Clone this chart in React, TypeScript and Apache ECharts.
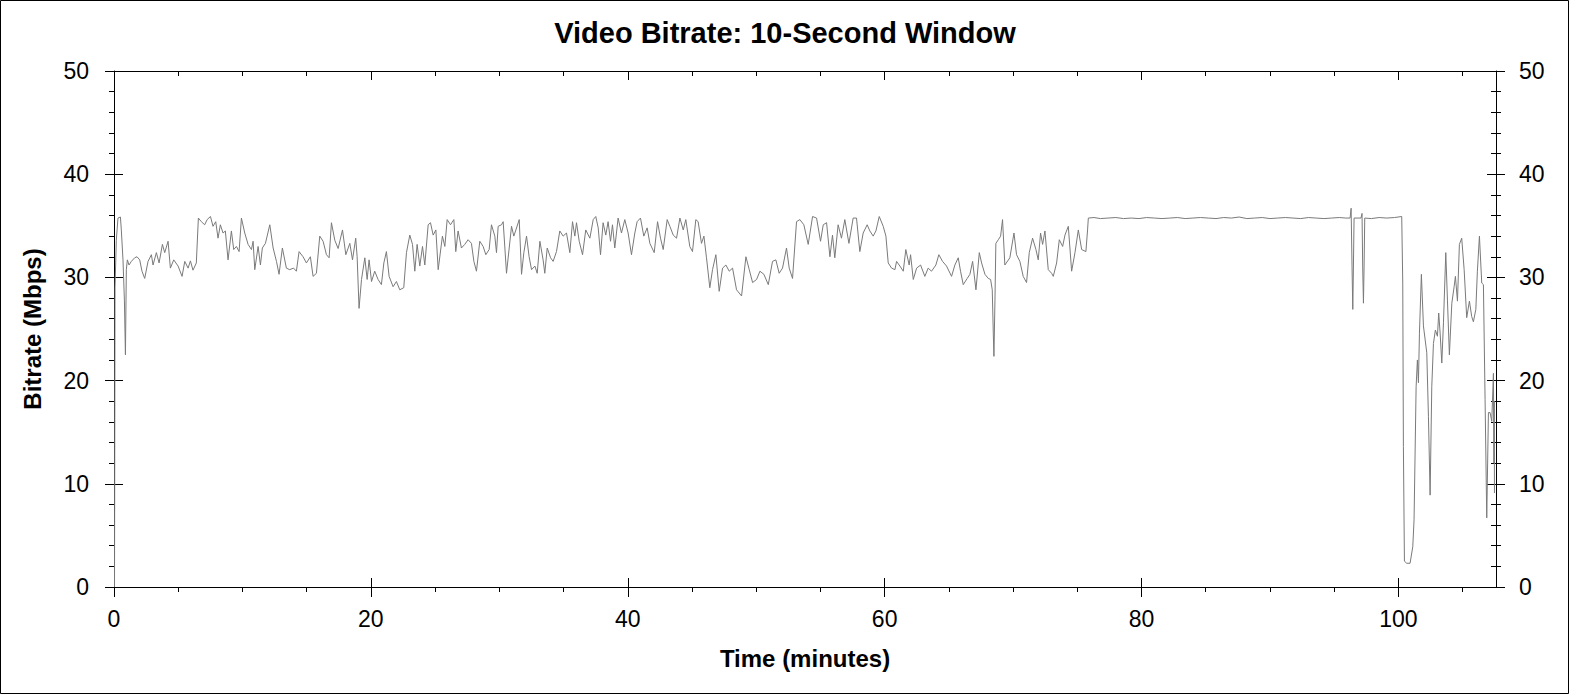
import React, { useEffect, useRef } from "react";
import * as echarts from "echarts";

// Time in minutes
const timeMin: number[] = [
  0.04, 0.08, 0.18, 0.31, 0.5, 0.57, 0.7, 0.81, 0.89, 0.96, 1.04, 1.17, 1.35, 1.61, 1.79, 2.0, 2.18, 2.39, 2.65, 2.91,
  3.04, 3.3, 3.51, 3.77, 3.95, 4.21, 4.39, 4.65, 4.99, 5.3, 5.51, 5.77, 5.95, 6.15, 6.41, 6.57, 6.8, 7.06, 7.25, 7.51,
  7.71, 7.92, 8.1, 8.28, 8.49, 8.67, 8.88, 9.14, 9.32, 9.53, 9.74, 9.92, 10.18, 10.44, 10.7, 10.83, 10.96, 11.22, 11.4, 11.55,
  11.79, 12.13, 12.39, 12.65, 12.85, 13.11, 13.42, 13.68, 13.98, 14.2, 14.41, 14.72, 14.98, 15.29, 15.5, 15.76, 16.02, 16.28, 16.54, 16.75,
  16.93, 17.19, 17.45, 17.79, 18.05, 18.36, 18.57, 18.82, 18.93, 19.08, 19.27, 19.53, 19.71, 19.86, 20.05, 20.3, 20.56, 20.82, 21.01, 21.21,
  21.42, 21.73, 21.99, 22.25, 22.56, 22.77, 23.03, 23.24, 23.42, 23.6, 23.81, 24.02, 24.2, 24.46, 24.64, 24.85, 25.06, 25.24, 25.57, 25.76,
  25.94, 26.2, 26.46, 26.61, 26.79, 27.05, 27.31, 27.57, 27.83, 28.02, 28.22, 28.48, 28.74, 28.95, 29.21, 29.39, 29.65, 29.78, 29.91, 30.17,
  30.3, 30.56, 30.95, 31.13, 31.29, 31.55, 31.73, 31.91, 32.12, 32.32, 32.51, 32.77, 32.95, 33.16, 33.41, 33.54, 33.73, 33.99, 34.19, 34.45,
  34.71, 34.97, 35.23, 35.49, 35.7, 35.88, 36.01, 36.22, 36.48, 36.73, 37.05, 37.31, 37.51, 37.7, 37.88, 38.08, 38.29, 38.47, 38.66, 38.81,
  38.99, 39.25, 39.51, 39.77, 40.03, 40.29, 40.55, 40.73, 40.99, 41.25, 41.51, 41.72, 42.06, 42.32, 42.55, 42.76, 43.07, 43.28, 43.54, 43.8,
  44.06, 44.32, 44.52, 44.83, 45.04, 45.3, 45.48, 45.74, 45.93, 46.13, 46.39, 46.6, 46.86, 47.12, 47.38, 47.64, 47.9, 48.16, 48.47, 48.86,
  49.2, 49.46, 49.72, 50.03, 50.29, 50.6, 50.94, 51.27, 51.53, 51.79, 52.05, 52.36, 52.57, 52.83, 53.14, 53.4, 53.71, 54.05, 54.39, 54.7,
  55.01, 55.22, 55.48, 55.74, 55.94, 56.12, 56.38, 56.64, 56.9, 57.22, 57.55, 57.81, 58.07, 58.33, 58.64, 58.85, 59.11, 59.32, 59.58, 59.89,
  60.1, 60.28, 60.54, 60.8, 60.93, 61.19, 61.45, 61.65, 61.91, 62.02, 62.23, 62.49, 62.8, 63.13, 63.39, 63.65, 63.99, 64.22, 64.51, 64.82,
  65.21, 65.47, 65.73, 65.91, 66.12, 66.43, 66.64, 66.85, 67.11, 67.37, 67.55, 67.81, 68.07, 68.25, 68.38, 68.46, 68.51, 68.59, 68.66, 68.85,
  69.03, 69.18, 69.36, 69.75, 70.07, 70.27, 70.53, 70.79, 71.05, 71.26, 71.52, 71.78, 71.96, 72.14, 72.3, 72.48, 72.74, 73.0, 73.13, 73.39,
  73.6, 73.86, 74.04, 74.3, 74.56, 74.82, 75.08, 75.34, 75.67, 75.8, 75.86,
  76.3, 76.8, 77.4, 78.0, 78.6, 79.2, 79.8, 80.4, 81.0, 81.6, 82.2, 82.8, 83.4, 84.0, 84.6, 85.2, 85.8, 86.4, 87.0, 87.6,
  88.2, 88.8, 89.4, 90.0, 90.6, 91.2, 91.8, 92.4, 93.0, 93.6, 94.2, 94.8, 95.4, 95.9, 96.24,
  96.32, 96.39, 96.45, 96.5, 96.55, 97.09, 97.17, 97.22, 97.28, 97.33, 97.38, 97.9, 98.5, 99.1, 99.7,
  100.26, 100.34, 100.39, 100.47, 100.65, 100.91, 101.12, 101.22, 101.38, 101.48, 101.56, 101.64, 101.79, 101.95, 102.21, 102.34, 102.47, 102.6, 102.73, 102.88,
  103.04, 103.14, 103.25, 103.38, 103.51, 103.69, 103.82, 103.97, 104.16, 104.34, 104.44, 104.6, 104.75, 104.93, 105.12, 105.32, 105.53, 105.71, 105.84, 106.03,
  106.15, 106.31, 106.49, 106.62, 106.75, 106.88, 107.01, 107.14, 107.27, 107.4, 107.44, 107.46, 107.48,
];

// Bitrate in Mbps
const bitrateMbps: number[] = [
  0, 29.0, 33.6, 35.75, 35.85, 34.6, 31.7, 27.8, 22.5, 30.75, 31.7, 31.2, 31.55, 31.9, 32.0, 31.7, 30.6, 29.9, 31.55, 32.2,
  31.2, 32.4, 31.4, 33.2, 32.4, 33.5, 30.9, 31.7, 31.1, 30.1, 31.55, 30.9, 31.6, 30.7, 31.4, 35.75, 35.4, 35.1, 35.6, 35.9,
  34.95, 35.4, 33.8, 35.1, 34.3, 34.5, 31.7, 34.5, 32.7, 33.0, 32.5, 35.75, 34.3, 33.2, 32.7, 33.5, 30.75, 33.0, 31.2, 32.85,
  33.3, 35.1, 32.85, 31.55, 30.3, 32.85, 30.9, 30.75, 30.9, 30.6, 32.5, 32.0, 31.4, 32.0, 30.1, 30.4, 34.0, 33.5, 32.2, 31.9,
  35.3, 33.6, 32.8, 34.6, 32.2, 33.3, 31.7, 33.8, 32.0, 27.0, 29.8, 31.9, 29.8, 31.7, 29.6, 30.6, 29.8, 29.3, 31.4, 32.5,
  30.1, 29.1, 29.6, 28.8, 29.0, 32.4, 34.1, 33.2, 30.6, 33.2, 31.1, 33.0, 31.2, 35.1, 35.3, 34.1, 34.6, 30.75, 34.0, 33.0,
  35.6, 35.1, 35.6, 32.5, 34.5, 32.85, 33.2, 33.65, 33.3, 31.55, 30.6, 33.5, 33.0, 32.2, 32.7, 35.1, 34.0, 32.4, 34.95, 35.1,
  35.4, 30.4, 34.95, 34.0, 34.6, 35.6, 30.3, 32.4, 34.0, 32.0, 30.75, 31.1, 30.4, 33.5, 31.7, 30.4, 32.85, 31.9, 31.55, 32.5,
  34.5, 34.0, 34.3, 32.4, 35.4, 34.0, 35.3, 33.5, 32.2, 34.6, 33.8, 35.6, 35.9, 34.8, 32.2, 35.3, 34.1, 35.4, 33.5, 35.1,
  32.85, 35.75, 34.3, 35.6, 34.3, 32.2, 34.3, 35.4, 35.75, 34.0, 34.8, 33.3, 32.4, 35.4, 33.8, 32.7, 35.6, 34.95, 34.1, 33.8,
  35.75, 34.6, 35.6, 33.0, 32.5, 35.6, 35.4, 33.3, 34.0, 31.9, 29.0, 30.75, 32.2, 28.65, 30.9, 31.2, 30.6, 30.9, 28.8, 28.2,
  32.0, 30.75, 29.5, 29.8, 30.6, 30.3, 29.3, 31.55, 31.7, 30.4, 30.9, 32.85, 30.9, 29.9, 35.4, 35.6, 35.1, 33.2, 35.9, 35.75,
  33.5, 35.1, 35.3, 32.0, 34.1, 31.9, 35.1, 33.8, 35.6, 33.3, 35.75, 35.75, 32.5, 34.3, 35.1, 34.5, 34.0, 34.5, 35.9, 34.95,
  34.0, 31.4, 30.9, 30.75, 31.55, 31.1, 30.6, 32.7, 31.2, 32.2, 29.8, 30.9, 31.2, 30.1, 30.9, 30.6, 31.2, 32.2, 31.55, 31.1,
  30.1, 31.2, 31.9, 30.6, 29.3, 29.9, 30.3, 31.55, 28.8, 32.4, 31.4, 30.3, 29.9, 29.8, 28.8, 24.6, 22.35, 27.8, 33.3, 33.65,
  34.0, 35.6, 31.2, 31.9, 34.3, 32.2, 31.55, 30.1, 29.5, 32.4, 33.8, 32.7, 31.7, 34.3, 33.2, 34.5, 30.75, 30.4, 30.1, 31.4,
  33.65, 33.0, 34.1, 34.95, 30.6, 32.4, 34.6, 32.7, 32.5, 34.6, 35.75,
  35.8, 35.7, 35.75, 35.8, 35.7, 35.75, 35.7, 35.8, 35.75, 35.7, 35.75, 35.8, 35.7, 35.75, 35.8, 35.75, 35.7, 35.8, 35.75, 35.85,
  35.7, 35.75, 35.8, 35.7, 35.75, 35.8, 35.75, 35.7, 35.8, 35.75, 35.7, 35.75, 35.8, 35.75, 35.75,
  36.7, 31.1, 26.9, 31.1, 35.75, 35.75, 36.2, 31.1, 27.5, 31.1, 35.75, 35.7, 35.8, 35.75, 35.8,
  35.9, 29.45, 13.6, 2.5, 2.3, 2.3, 3.9, 6.5, 19.4, 22.0, 19.8, 24.6, 30.3, 25.3, 22.7, 16.5, 8.9, 19.4, 23.6, 24.9,
  24.3, 26.55, 24.6, 21.7, 25.6, 32.4, 27.8, 22.5, 27.5, 29.1, 30.1, 27.7, 33.2, 33.8, 30.75, 26.1, 27.7, 26.2, 25.7, 26.9,
  30.6, 34.0, 29.45, 29.3, 18.15, 6.7, 16.9, 16.9, 16.05, 20.7, 12.0, 18.0, 9.1,
];

const xMajorTicks: number[] = [0, 20, 40, 60, 80, 100];
const xMinorTicks: number[] = [5, 10, 15, 25, 30, 35, 45, 50, 55, 65, 70, 75, 85, 90, 95, 105];

const TITLE = "Video Bitrate: 10-Second Window";
const X_NAME = "Time (minutes)";
const Y_NAME = "Bitrate (Mbps)";

const FONT = '"Liberation Sans", Arial, Helvetica, sans-serif';
const X_MAX = 107.6;

export default function App() {
  const ref = useRef<HTMLDivElement>(null);

  useEffect(() => {
    if (!ref.current) return;
    const chart = echarts.init(ref.current, undefined, { renderer: "svg" });
    const black = { color: "#000", width: 1 };
    const baseX = { type: "value", min: 0, max: X_MAX, interval: 20, splitLine: { show: false } };
    const baseY = { type: "value", min: 0, max: 50, interval: 10, splitLine: { show: false } };
    const labelStyle = { color: "#000", fontSize: 23, fontFamily: FONT };

    const data = timeMin.map((t, i) => [t, bitrateMbps[i]]);

    chart.setOption({
      animation: false,
      backgroundColor: "#fff",
      grid: { left: 114, right: 74, top: 71, bottom: 108, containLabel: false },
      xAxis: [
        {
          ...baseX,
          position: "bottom",
          axisLine: { show: true, onZero: false, lineStyle: black },
          axisTick: { show: true, length: 10, customValues: xMajorTicks, lineStyle: black },
          axisLabel: { ...labelStyle, margin: 20, customValues: xMajorTicks },
        },
        {
          ...baseX,
          position: "bottom",
          axisLine: { show: false, onZero: false },
          axisTick: { show: true, inside: true, length: 9, customValues: xMajorTicks, lineStyle: black },
          axisLabel: { show: false },
        },
        {
          ...baseX,
          position: "bottom",
          axisLine: { show: false, onZero: false },
          axisTick: { show: true, length: 5, customValues: xMinorTicks, lineStyle: black },
          axisLabel: { show: false },
        },
        {
          ...baseX,
          position: "top",
          axisLine: { show: true, onZero: false, lineStyle: black },
          axisTick: { show: true, inside: true, length: 9, customValues: xMajorTicks, lineStyle: black },
          axisLabel: { show: false },
        },
        {
          ...baseX,
          position: "top",
          axisLine: { show: false, onZero: false },
          axisTick: { show: true, inside: true, length: 5, customValues: xMinorTicks, lineStyle: black },
          axisLabel: { show: false },
        },
      ],
      yAxis: [
        {
          ...baseY,
          position: "left",
          axisLine: { show: true, onZero: false, lineStyle: black },
          axisTick: { show: true, length: 9, lineStyle: black },
          minorTick: { show: true, splitNumber: 5, length: 5, lineStyle: black },
          minorSplitLine: { show: false },
          axisLabel: { ...labelStyle, margin: 25 },
        },
        {
          ...baseY,
          position: "left",
          axisLine: { show: false, onZero: false },
          axisTick: { show: true, inside: true, length: 9, lineStyle: black },
          axisLabel: { show: false },
        },
        {
          ...baseY,
          position: "right",
          axisLine: { show: true, onZero: false, lineStyle: black },
          axisTick: { show: true, length: 9, lineStyle: black },
          minorTick: { show: true, splitNumber: 5, length: 5, lineStyle: black },
          minorSplitLine: { show: false },
          axisLabel: { ...labelStyle, margin: 23 },
        },
        {
          ...baseY,
          position: "right",
          axisLine: { show: false, onZero: false },
          axisTick: { show: true, inside: true, length: 9, lineStyle: black },
          minorTick: { show: true, splitNumber: 5, length: 5, lineStyle: black },
          minorSplitLine: { show: false },
          axisLabel: { show: false },
        },
      ],
      series: [
        {
          type: "line",
          xAxisIndex: 0,
          yAxisIndex: 0,
          data,
          showSymbol: false,
          symbol: "none",
          lineStyle: { color: "#7a7a7a", width: 1 },
          itemStyle: { color: "#7a7a7a" },
          silent: true,
        },
      ],
      graphic: [
        {
          type: "rect",
          shape: { x: 0.5, y: 0.5, width: 1568, height: 693 },
          style: { fill: "none", stroke: "#000", lineWidth: 1 },
          silent: true,
        },
        {
          type: "text",
          x: 785,
          y: 33,
          style: {
            text: TITLE,
            fill: "#000",
            fontSize: 29,
            fontWeight: "bold",
            fontFamily: FONT,
            align: "center",
            verticalAlign: "middle",
          },
        },
        {
          type: "text",
          x: 805,
          y: 658,
          style: {
            text: X_NAME,
            fill: "#000",
            fontSize: 24,
            fontWeight: "bold",
            fontFamily: FONT,
            align: "center",
            verticalAlign: "middle",
          },
        },
        {
          type: "text",
          x: 32,
          y: 329,
          rotation: Math.PI / 2,
          style: {
            text: Y_NAME,
            fill: "#000",
            fontSize: 24,
            fontWeight: "bold",
            fontFamily: FONT,
            align: "center",
            verticalAlign: "middle",
          },
        },
      ],
    });
    return () => chart.dispose();
  }, []);

  return (
    <div
      ref={ref}
      style={{ position: "absolute", left: 0, top: 0, width: 1570, height: 695, background: "#fff" }}
    />
  );
}
